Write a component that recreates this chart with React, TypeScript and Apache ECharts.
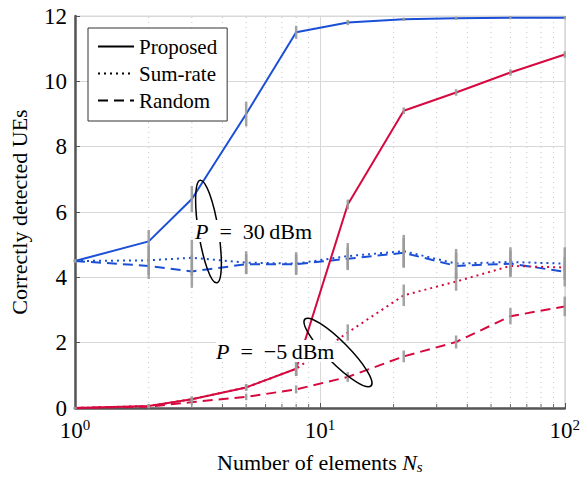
import React, { useEffect, useRef } from "react";
import * as echarts from "echarts";

const xValues = [1, 2, 3, 5, 8, 13, 22, 36, 60, 100];

const blueProposed = [4.5, 5.1, 6.4, 9.0, 11.5, 11.8, 11.9, 11.93, 11.95, 11.95];
const blueSumRate = [4.5, 4.52, 4.6, 4.45, 4.42, 4.65, 4.8, 4.42, 4.47, 4.42];
const blueRandom = [4.5, 4.35, 4.18, 4.4, 4.4, 4.57, 4.75, 4.35, 4.42, 4.17];
const redProposed = [0, 0.06, 0.27, 0.63, 1.2, 6.23, 9.1, 9.66, 10.27, 10.82];
const redSumRate = [0, 0.06, 0.27, 0.63, 1.2, 2.31, 3.45, 3.87, 4.35, 4.3];
const redRandom = [0, 0.04, 0.18, 0.34, 0.57, 0.95, 1.58, 2.02, 2.81, 3.11];

const bluePropErr = [0.05, 0.35, 0.4, 0.38, 0.2, 0.08, 0.05, 0.05, 0.05, 0.05];
const blueSumErr = [0.05, 0.45, 0.55, 0.35, 0.35, 0.4, 0.5, 0.45, 0.45, 0.5];
const blueRandErr = [0.05, 0.4, 0.5, 0.3, 0.3, 0.35, 0.45, 0.4, 0.4, 0.45];
const redPropErr = [0.03, 0.06, 0.08, 0.1, 0.22, 0.15, 0.1, 0.1, 0.1, 0.1];
const redSumErr = [0.03, 0.06, 0.08, 0.1, 0.22, 0.25, 0.33, 0.28, 0.2, 0.12];
const redRandErr = [0.03, 0.05, 0.08, 0.1, 0.12, 0.15, 0.18, 0.2, 0.25, 0.3];

const minorXTicks = [2, 3, 4, 5, 6, 7, 8, 9, 20, 30, 40, 50, 60, 70, 80, 90];
const yTicks = { min: 0, max: 12, interval: 2 };

const BLUE = "#1a4fd6";
const RED = "#d6093f";
const FONT = "'Liberation Serif', 'Times New Roman', 'DejaVu Serif', serif";
const DOTTED = [2, 4];
const DASHED = [10, 6];

function pairs(vals: number[]) {
  return xValues.map((x, i) => [x, vals[i]]);
}
function errData(vals: number[], errs: number[]) {
  return xValues.map((x, i) => [x, vals[i], errs[i]]);
}

const annoRich = {
  i: { fontStyle: "italic", fontFamily: FONT, fontSize: 22, color: "#000" },
  n: { fontFamily: FONT, fontSize: 22, color: "#000" },
};

export default function App() {
  const ref = useRef<HTMLDivElement>(null);
  useEffect(() => {
    if (!ref.current) return;
    document.body.style.margin = "0";
    const chart = echarts.init(ref.current, undefined, { renderer: "svg" });

    const lineSeries = (name: string, data: number[], color: string, type: any) => ({
      name,
      type: "line",
      data: pairs(data),
      symbol: "none",
      lineStyle: { color, width: 2, type },
      itemStyle: { color },
      z: 3,
    });

    const errSeries = (vals: number[], errs: number[]) => ({
      type: "custom",
      data: errData(vals, errs),
      encode: { x: 0, y: 1 },
      z: 4,
      silent: true,
      renderItem: (params: any, api: any) => {
        const x = api.value(0);
        const y = api.value(1);
        const e = api.value(2);
        const p0 = api.coord([x, y - e]);
        const p1 = api.coord([x, y + e]);
        return {
          type: "line",
          shape: { x1: p0[0], y1: p0[1], x2: p1[0], y2: p1[1] },
          style: { stroke: "#9a9a9a", lineWidth: 2.5, opacity: 0.9 },
        };
      },
    });

    const legendDummy = (name: string, type: any) => ({
      name,
      type: "line",
      data: [],
      symbol: "none",
      showSymbol: false,
      lineStyle: { color: "#000", width: 2, type },
      itemStyle: { color: "#000" },
    });

    chart.setOption({
      animation: false,
      backgroundColor: "#fff",
      textStyle: { fontFamily: FONT },
      grid: {
        left: 73,
        right: 16,
        top: 16,
        bottom: 66,
        show: true,
        borderColor: "#d8d8d8",
        borderWidth: 1,
      },
      legend: {
        data: ["Proposed", "Sum-rate", "Random"],
        orient: "vertical",
        left: 88,
        top: 28,
        padding: [8, 10, 10, 9],
        itemGap: 6,
        itemWidth: 36,
        itemHeight: 14,
        backgroundColor: "#fff",
        borderColor: "#333",
        borderWidth: 1,
        borderRadius: 0,
        itemStyle: { opacity: 0 },
        textStyle: { fontFamily: FONT, fontSize: 21, color: "#000" },
      },
      xAxis: {
        type: "log",
        logBase: 10,
        min: 1,
        max: 100,
        name: "Number of elements {i|N}{sub|s}",
        nameLocation: "middle",
        nameGap: 42,
        nameTextStyle: {
          fontFamily: FONT,
          fontSize: 22,
          color: "#000",
          rich: {
            i: { fontFamily: FONT, fontSize: 22, fontStyle: "italic", color: "#000" },
            sub: { fontFamily: FONT, fontSize: 15, fontStyle: "italic", color: "#000", padding: [9, 0, 0, 0] },
          },
        },
        axisLine: { show: true, lineStyle: { color: "#555", width: 2.5 } },
        axisTick: { show: true, inside: true, length: 5, lineStyle: { color: "#555" } },
        splitLine: { show: true, lineStyle: { color: "#d8d8d8", width: 1 } },
        axisLabel: {
          margin: 9,
          color: "#000",
          fontFamily: FONT,
          fontSize: 23,
          formatter: (v: number) => `10{sup|${Math.round(Math.log10(v))}}`,
          rich: {
            sup: { fontFamily: FONT, fontSize: 15, color: "#000", padding: [0, 0, 11, 0] },
          },
        },
      },
      yAxis: {
        type: "value",
        min: yTicks.min,
        max: yTicks.max,
        interval: yTicks.interval,
        name: "Correctly detected UEs",
        nameLocation: "middle",
        nameGap: 45,
        nameTextStyle: { fontFamily: FONT, fontSize: 22, color: "#000" },
        axisLine: { show: true, lineStyle: { color: "#555", width: 2.5 } },
        axisTick: { show: true, inside: true, length: 5, lineStyle: { color: "#555" } },
        splitLine: { show: true, lineStyle: { color: "#d8d8d8", width: 1 } },
        axisLabel: { margin: 8, color: "#000", fontFamily: FONT, fontSize: 23 },
      },
      series: [
        {
          type: "custom",
          data: minorXTicks.map((x) => [x, 0]),
          encode: { x: 0, y: 1 },
          z: 1,
          silent: true,
          renderItem: (params: any, api: any) => {
            const x = api.value(0);
            const p0 = api.coord([x, yTicks.min]);
            const p1 = api.coord([x, yTicks.max]);
            return {
              type: "group",
              children: [
                {
                  type: "line",
                  shape: { x1: p0[0], y1: p0[1], x2: p1[0], y2: p1[1] },
                  style: { stroke: "#c8c8c8", lineWidth: 1, lineDash: [1, 4] },
                },
                {
                  type: "line",
                  shape: { x1: p0[0], y1: p0[1], x2: p0[0], y2: p0[1] - 4 },
                  style: { stroke: "#666", lineWidth: 1 },
                },
              ],
            };
          },
        },
        legendDummy("Proposed", "solid"),
        legendDummy("Sum-rate", DOTTED),
        legendDummy("Random", DASHED),
        lineSeries("Proposed 30 dBm", blueProposed, BLUE, "solid"),
        lineSeries("Sum-rate 30 dBm", blueSumRate, BLUE, DOTTED),
        lineSeries("Random 30 dBm", blueRandom, BLUE, DASHED),
        lineSeries("Proposed -5 dBm", redProposed, RED, "solid"),
        lineSeries("Sum-rate -5 dBm", redSumRate, RED, DOTTED),
        lineSeries("Random -5 dBm", redRandom, RED, DASHED),
        errSeries(blueProposed, bluePropErr),
        errSeries(blueSumRate, blueSumErr),
        errSeries(blueRandom, blueRandErr),
        errSeries(redProposed, redPropErr),
        errSeries(redSumRate, redSumErr),
        errSeries(redRandom, redRandErr),
      ],
      graphic: [
        {
          type: "ellipse",
          shape: { cx: 0, cy: 0, rx: 10, ry: 52 },
          x: 208.5,
          y: 231.5,
          rotation: 0.16,
          style: { fill: "none", stroke: "#000", lineWidth: 1.5 },
          z: 10,
        },
        {
          type: "text",
          x: 195,
          y: 231,
          style: {
            text: "{i|P}{n|\u2002=\u200230\u2009dBm}",
            fill: "#000",
            fontFamily: FONT,
            fontSize: 22,
            verticalAlign: "middle",
            backgroundColor: "#fff",
            rich: annoRich,
          },
          z: 11,
        },
        {
          type: "ellipse",
          shape: { cx: 0, cy: 0, rx: 47, ry: 11 },
          x: 338,
          y: 352.5,
          rotation: -0.79,
          style: { fill: "none", stroke: "#000", lineWidth: 1.5 },
          z: 10,
        },
        {
          type: "text",
          x: 216,
          y: 351,
          style: {
            text: "{i|P}{n|\u2002=\u2002\u22125\u2009dBm}",
            fill: "#000",
            fontFamily: FONT,
            fontSize: 22,
            verticalAlign: "middle",
            backgroundColor: "#fff",
            rich: annoRich,
          },
          z: 11,
        },
      ],
    });
    return () => chart.dispose();
  }, []);
  return <div ref={ref} style={{ width: 583, height: 479 }} />;
}
